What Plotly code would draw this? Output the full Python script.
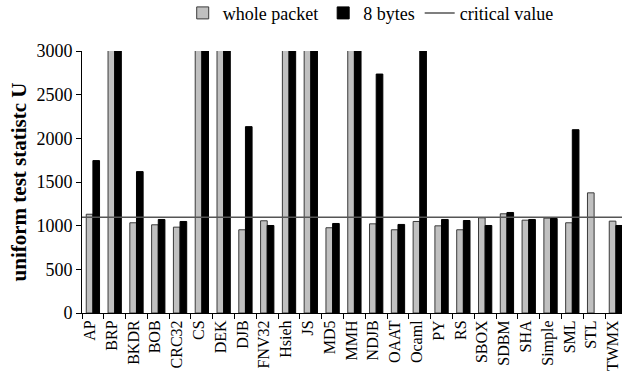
import plotly.graph_objects as go

categories = ["AP", "BRP", "BKDR", "BOB", "CRC32", "CS", "DEK", "DJB", "FNV32", "Hsieh",
              "JS", "MD5", "MMH", "NDJB", "OAAT", "Ocaml", "PY", "RS", "SBOX", "SDBM",
              "SHA", "Simple", "SML", "STL", "TWMX"]
# values above 3000 run off the top of the chart in the reference
whole_packet = [1131, 3400, 1033, 1010, 983, 3400, 3400, 953, 1056, 3400,
                3400, 976, 3400, 1021, 953, 1048, 998, 953, 1090, 1136,
                1063, 1086, 1033, 1376, 1052]
eight_bytes = [1745, 3400, 1619, 1071, 1048, 3400, 3400, 2134, 1002, 3400,
               3400, 1025, 3400, 2736, 1014, 3400, 1071, 1059, 1002, 1151,
               1071, 1082, 2099, None, 1002]
critical_value = 1097
y_ticks = [0, 500, 1000, 1500, 2000, 2500, 3000]

FONT = "Liberation Serif"

fig = go.Figure()
fig.add_trace(go.Bar(x=categories, y=whole_packet, name="whole packet",
                     marker=dict(color="#c0c0c0", line=dict(color="#3a3a3a", width=1))))
fig.add_trace(go.Bar(x=categories, y=eight_bytes, name="8 bytes",
                     marker=dict(color="#000000", line=dict(color="#000000", width=1))))
fig.add_shape(type="line", xref="paper", x0=0, x1=1, yref="y",
              y0=critical_value, y1=critical_value,
              line=dict(color="#555555", width=1.5),
              showlegend=True, name="critical value")

fig.update_layout(
    width=622, height=388,
    margin=dict(l=82, r=0, t=51, b=75),
    paper_bgcolor="white", plot_bgcolor="white",
    barmode="group", bargap=0.39, bargroupgap=0,
    font=dict(family=FONT, size=18, color="black"),
    legend=dict(orientation="h", xref="container", yref="container",
                x=0.596, xanchor="center", y=0.966, yanchor="middle",
                font=dict(size=18), itemwidth=30, traceorder="normal",
                tracegroupgap=0, bgcolor="rgba(0,0,0,0)"),
    xaxis=dict(type="category", range=[-0.5, 24.28], showline=True, linecolor="black",
               linewidth=1, ticks="outside", tickson="boundaries", ticklen=5,
               tickcolor="black", tickangle=-90, showgrid=False, automargin=False,
               ticklabeloverflow="allow", ticklabelshift=-3, tickfont=dict(size=16)),
    yaxis=dict(range=[0, 3000], tickvals=y_ticks, showline=True, linecolor="black",
               linewidth=1, ticks="outside", ticklen=5, tickcolor="black",
               showgrid=False, zeroline=False, automargin=False, tickfont=dict(size=18),
               title=dict(text="<b>uniform test statistc U</b>", font=dict(size=21),
                          standoff=4)),
)

fig.write_html("out.html", config={"displayModeBar": False},
               post_script="document.body.style.margin='0';")
